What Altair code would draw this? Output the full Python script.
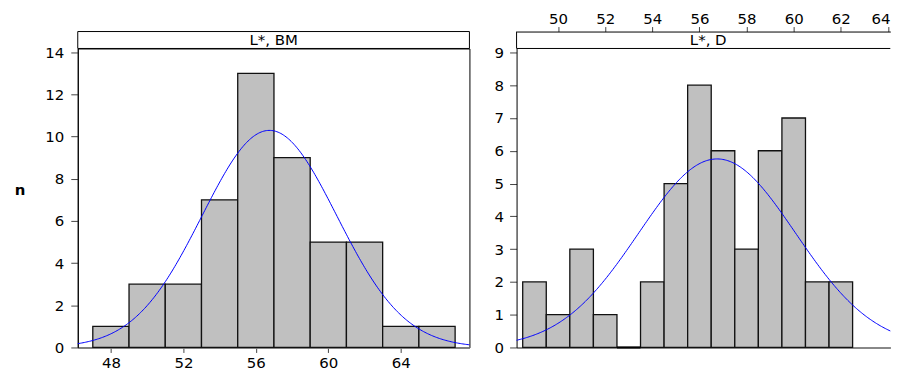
import altair as alt
import numpy as np
import pandas as pd

FONT = "DejaVu Sans"

# ---- Panel "L*, BM" ----
bm_bin_start = [47, 49, 51, 53, 55, 57, 59, 61, 63, 65]
bm_bin_end = [49, 51, 53, 55, 57, 59, 61, 63, 65, 67]
bm_counts = [1, 3, 3, 7, 13, 9, 5, 5, 1, 1]
bm_mean, bm_sd, bm_binwidth = 56.75, 3.72, 2.0
bm_x_domain = [46.17, 67.79]
bm_y_domain = [0, 14.18]
bm_x_ticks = [48, 52, 56, 60, 64]
bm_y_ticks = [0, 2, 4, 6, 8, 10, 12, 14]
bm_label = "L*, BM"

# ---- Panel "L*, D" ----
d_bin_start = [48.5, 49.5, 50.5, 51.5, 52.5, 53.5, 54.5, 55.5, 56.5, 57.5, 58.5, 59.5, 60.5, 61.5]
d_bin_end = [49.5, 50.5, 51.5, 52.5, 53.5, 54.5, 55.5, 56.5, 57.5, 58.5, 59.5, 60.5, 61.5, 62.5]
d_counts = [2, 1, 3, 1, 0, 2, 5, 8, 6, 3, 6, 7, 2, 2]
d_mean, d_sd, d_binwidth = 56.75, 3.33, 1.0
d_x_domain = [48.24, 64.10]
d_y_domain = [0, 9.12]
d_x_ticks = [50, 52, 54, 56, 58, 60, 62, 64]
d_y_ticks = [0, 1, 2, 3, 4, 5, 6, 7, 8, 9]
d_label = "L*, D"

W1, W2, H = 393, 375, 300
STRIP = 17


def normal_curve(mean, sd, binwidth, counts, domain):
    xs = np.linspace(domain[0], domain[1], 300)
    total = sum(counts)
    ys = total * binwidth * np.exp(-0.5 * ((xs - mean) / sd) ** 2) / (sd * np.sqrt(2 * np.pi))
    return pd.DataFrame({"lo": xs, "n": ys})


one = alt.Data(values=[{"k": 1}])

# ---------------- left panel ----------------
bm_df = pd.DataFrame({"lo": bm_bin_start, "hi": bm_bin_end, "n": bm_counts,
                      "base": [0] * len(bm_counts)})
bm_curve = normal_curve(bm_mean, bm_sd, bm_binwidth, bm_counts, bm_x_domain)
xs1 = alt.Scale(domain=bm_x_domain, nice=False, zero=False)
ys1 = alt.Scale(domain=bm_y_domain, nice=False)

left_y_axis = alt.Axis(values=bm_y_ticks, title="n", titleAngle=0, titleX=-58.5, titleY=141.5,
                       titleAlign="center", titleBaseline="middle", titleFontWeight="bold",
                       titleFontSize=15, titleFont=FONT, titleColor="black",
                       domainColor="black", tickColor="#444", tickSize=7, labelPadding=7, grid=False)
left_x_axis = alt.Axis(values=bm_x_ticks, title=None, orient="bottom", domainColor="#808080",
                       domainWidth=1.5, tickColor="#444", tickSize=5, labelPadding=3, grid=False)

strip1 = alt.Chart(one).mark_rect(fill="white", stroke="black", strokeWidth=1).encode(
    x=alt.value(0), x2=alt.value(W1), y=alt.value(-STRIP), y2=alt.value(0))
bars1 = alt.Chart(bm_df).mark_rect(fill="#c0c0c0", stroke="#111", strokeWidth=1.3).encode(
    x=alt.X("lo:Q", scale=xs1, axis=left_x_axis),
    x2="hi:Q",
    y=alt.Y("n:Q", scale=ys1, axis=left_y_axis),
    y2="base:Q")
curve1 = alt.Chart(bm_curve).mark_line(color="#0000ff", strokeWidth=1).encode(
    x=alt.X("lo:Q", scale=xs1, axis=left_x_axis),
    y=alt.Y("n:Q", scale=ys1, axis=left_y_axis))
text1 = alt.Chart(one).mark_text(font=FONT, fontSize=15, color="black", baseline="middle",
                                  align="center").encode(
    x=alt.value(W1 / 2), y=alt.value(-STRIP / 2), text=alt.value(bm_label))

left = alt.layer(strip1, bars1, curve1, text1).properties(
    width=W1, height=H, view=alt.ViewBackground(stroke="black", strokeWidth=1))

# ---------------- right panel ----------------
d_df = pd.DataFrame({"lo": d_bin_start, "hi": d_bin_end, "n": d_counts,
                     "base": [0] * len(d_counts)})
d_curve = normal_curve(d_mean, d_sd, d_binwidth, d_counts, d_x_domain)
xs2 = alt.Scale(domain=d_x_domain, nice=False, zero=False)
ys2 = alt.Scale(domain=d_y_domain, nice=False)

right_y_axis = alt.Axis(values=d_y_ticks, title=None, domainColor="black", tickColor="#444",
                        tickSize=7, labelPadding=6, grid=False)
right_bottom_axis = alt.Axis(title=None, orient="bottom", labels=False, ticks=False,
                             domainColor="#808080", domainWidth=1.5, grid=False)
right_top_axis = alt.Axis(values=d_x_ticks, title=None, orient="top", offset=STRIP,
                          domainColor="black", tickColor="#444", tickSize=5, labelPadding=0,
                          labelFlush=4, labelFlushOffset=2, grid=False)

bars2 = alt.Chart(d_df).mark_rect(fill="#c0c0c0", stroke="#111", strokeWidth=1.3).encode(
    x=alt.X("lo:Q", scale=xs2, axis=right_bottom_axis),
    x2="hi:Q",
    y=alt.Y("n:Q", scale=ys2, axis=right_y_axis),
    y2="base:Q")
empty2 = alt.Chart(d_df).transform_filter("datum.n == 0").mark_rule(
    color="black", strokeWidth=2).encode(
    x=alt.X("lo:Q", scale=xs2, axis=right_bottom_axis),
    x2="hi:Q",
    y=alt.Y("n:Q", scale=ys2, axis=right_y_axis))
curve2 = alt.Chart(d_curve).mark_line(color="#0000ff", strokeWidth=1).encode(
    x=alt.X("lo:Q", scale=xs2, axis=right_top_axis),
    y=alt.Y("n:Q", scale=ys2, axis=right_y_axis))
strip2_bottom = alt.Chart(one).mark_rule(color="black", strokeWidth=1).encode(
    x=alt.value(0), x2=alt.value(W2), y=alt.value(0))
strip2_left = alt.Chart(one).mark_rule(color="black", strokeWidth=1).encode(
    x=alt.value(0), y=alt.value(-STRIP), y2=alt.value(0))
text2 = alt.Chart(one).mark_text(font=FONT, fontSize=15, color="black", baseline="middle",
                                  align="center").encode(
    x=alt.value(192.3), y=alt.value(-STRIP / 2), text=alt.value(d_label))

right = alt.layer(bars2, empty2, curve2, strip2_bottom, strip2_left, text2).resolve_axis(
    x="independent").properties(
    width=W2, height=H, view=alt.ViewBackground(stroke="transparent"))

chart = alt.hconcat(left, right, spacing=47.3, bounds="flush").properties(
    padding={"left": 5, "top": 2, "right": 0, "bottom": 0}
).configure(font=FONT).configure_axis(
    labelFont=FONT, labelFontSize=15, labelColor="black", domainWidth=1)

chart.save("out.html", embed_options={"renderer": "svg", "actions": False})
